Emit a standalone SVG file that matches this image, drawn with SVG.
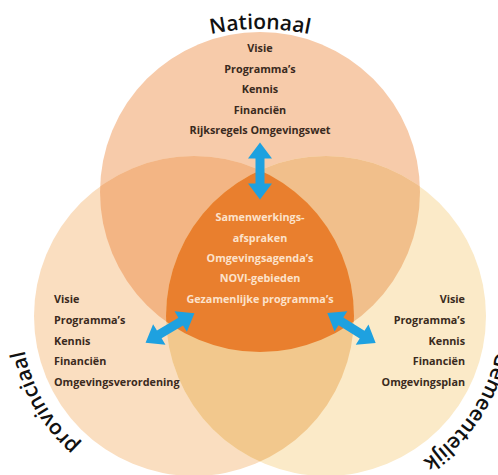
<svg xmlns="http://www.w3.org/2000/svg" width="498" height="475" viewBox="0 0 498 475">
<style>
.lst{font-family:"Open Sans","Liberation Sans",sans-serif;font-weight:700;font-size:10.8px;fill:#3a2a20}
.ctr{font-family:"Open Sans","Liberation Sans",sans-serif;font-weight:700;font-size:10.8px;fill:#fce2cb;text-anchor:middle}
.ttl{font-family:"Open Sans","Liberation Sans",sans-serif;font-weight:600;font-size:21px;fill:#111}
.arr{fill:#1ea1e0}
</style>
<defs>
<clipPath id="cT"><circle cx="260" cy="192" r="160"/></clipPath>
<clipPath id="cL"><circle cx="194" cy="316" r="160"/></clipPath>
<clipPath id="cR"><circle cx="326" cy="316" r="160"/></clipPath>
<path id="pT" d="M 20,269 A 240 240 0 0 1 500,269"/>
<path id="pL" d="M 163.96,486.37 A 173 173 0 0 1 31.43,256.83"/>
<path id="pR" d="M 493.26,268.04 A 174 174 0 0 1 344.19,489.05"/>
<polygon id="dbl" points="-28.5,0 -12.5,-12 -12.5,-4.5 12.5,-4.5 12.5,-12 28.5,0 12.5,12 12.5,4.5 -12.5,4.5 -12.5,12"/>
</defs>
<g id="node-nationaal">
<circle cx="260" cy="192" r="160" fill="#f7cbaa"/>
</g>
<g id="node-provinciaal">
<circle cx="194" cy="316" r="160" fill="#fadec0"/>
</g>
<g id="node-gemeentelijk">
<circle cx="326" cy="316" r="160" fill="#fbeac8"/>
</g>
<g id="overlaps">
<circle cx="194" cy="316" r="160" fill="#f3b584" clip-path="url(#cT)"/>
<circle cx="326" cy="316" r="160" fill="#f1bf8b" clip-path="url(#cT)"/>
<circle cx="326" cy="316" r="160" fill="#f2c88d" clip-path="url(#cL)"/>
</g>
<g id="node-center">
<g clip-path="url(#cL)"><circle cx="260" cy="192" r="160" fill="#e97f2e" clip-path="url(#cR)"/></g>
<text class="ctr" x="260" y="221">Samenwerkings-</text>
<text class="ctr" x="260" y="241.5">afspraken</text>
<text class="ctr" x="260" y="262">Omgevingsagenda’s</text>
<text class="ctr" x="260" y="282">NOVI-gebieden</text>
<text class="ctr" x="260" y="302.5">Gezamenlijke programma’s</text>
</g>
<g id="labels-nationaal">
<text class="ttl"><textPath href="#pT" startOffset="50%" text-anchor="middle">Nationaal</textPath></text>
<text class="lst" text-anchor="middle" x="260" y="52">Visie</text>
<text class="lst" text-anchor="middle" x="260" y="72.5">Programma’s</text>
<text class="lst" text-anchor="middle" x="260" y="93">Kennis</text>
<text class="lst" text-anchor="middle" x="260" y="113.5">Financiën</text>
<text class="lst" text-anchor="middle" x="260" y="134">Rijksregels Omgevingswet</text>
</g>
<g id="labels-provinciaal">
<text class="ttl"><textPath href="#pL" startOffset="50%" text-anchor="middle">provinciaal</textPath></text>
<text class="lst" x="54" y="303">Visie</text>
<text class="lst" x="54" y="324">Programma’s</text>
<text class="lst" x="54" y="345">Kennis</text>
<text class="lst" x="54" y="365">Financiën</text>
<text class="lst" x="54" y="386">Omgevingsverordening</text>
</g>
<g id="labels-gemeentelijk">
<text class="ttl"><textPath href="#pR" startOffset="50%" text-anchor="middle">Gemeentelijk</textPath></text>
<text class="lst" text-anchor="end" x="465" y="303">Visie</text>
<text class="lst" text-anchor="end" x="465" y="324">Programma’s</text>
<text class="lst" text-anchor="end" x="465" y="345">Kennis</text>
<text class="lst" text-anchor="end" x="465" y="365">Financiën</text>
<text class="lst" text-anchor="end" x="465" y="386">Omgevingsplan</text>
</g>
<g id="connectors">
<use href="#dbl" class="arr" transform="translate(260,171) rotate(90)"/>
<use href="#dbl" class="arr" transform="translate(170,328) rotate(-31)"/>
<use href="#dbl" class="arr" transform="translate(351.5,328) rotate(32)"/>
</g>
</svg>
